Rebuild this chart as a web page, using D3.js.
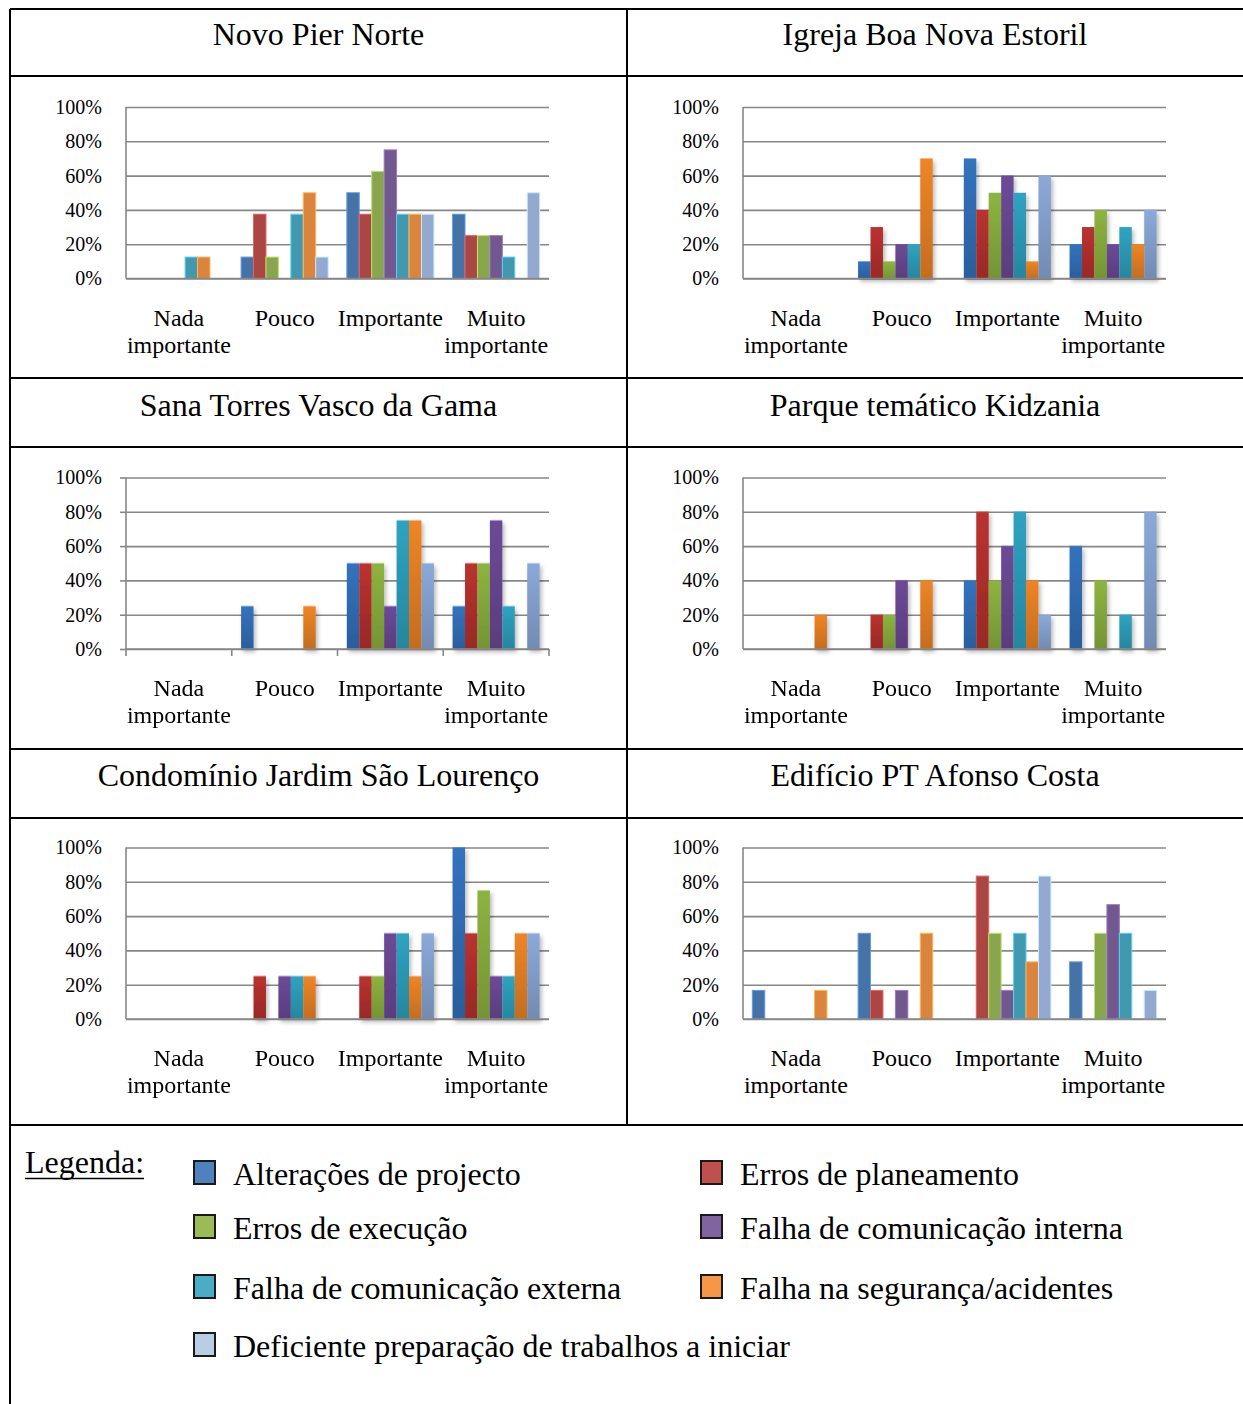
<!DOCTYPE html>
<html>
<head>
<meta charset="utf-8">
<script src="https://cdn.jsdelivr.net/npm/d3@7"></script>
<style>
body { margin: 0; background: #fff; }
text { font-family: 'Liberation Serif', 'Times New Roman', serif; fill: #000; }
</style>
</head>
<body>
<svg id="page" width="1243" height="1404"></svg>
<script>
// Categories, series and tick values
let categories = ['Nada importante', 'Pouco', 'Importante', 'Muito importante'];
let series = [
	'Alterações de projecto',
	'Erros de planeamento',
	'Erros de execução',
	'Falha de comunicação interna',
	'Falha de comunicação externa',
	'Falha na segurança/acidentes',
	'Deficiente preparação de trabalhos a iniciar'
];
let yTicks = [0, 20, 40, 60, 80, 100];

// Values per category (rows) and series (columns), in %
let novoPierNorte = [
	[0, 0, 0, 0, 12.5, 12.5, 0],
	[12.5, 37.5, 12.5, 0, 37.5, 50, 12.5],
	[50, 37.5, 62.5, 75, 37.5, 37.5, 37.5],
	[37.5, 25, 25, 25, 12.5, 0, 50]
];
let igrejaBoaNova = [
	[0, 0, 0, 0, 0, 0, 0],
	[10, 30, 10, 20, 20, 70, 0],
	[70, 40, 50, 60, 50, 10, 60],
	[20, 30, 40, 20, 30, 20, 40]
];
let sanaTorres = [
	[0, 0, 0, 0, 0, 0, 0],
	[25, 0, 0, 0, 0, 25, 0],
	[50, 50, 50, 25, 75, 75, 50],
	[25, 50, 50, 75, 25, 0, 50]
];
let kidzania = [
	[0, 0, 0, 0, 0, 20, 0],
	[0, 20, 20, 40, 0, 40, 0],
	[40, 80, 40, 60, 80, 40, 20],
	[60, 0, 40, 0, 20, 0, 80]
];
let condominio = [
	[0, 0, 0, 0, 0, 0, 0],
	[0, 25, 0, 25, 25, 25, 0],
	[0, 25, 25, 50, 50, 25, 50],
	[100, 50, 75, 25, 25, 50, 50]
];
let edificioPT = [
	[16.67, 0, 0, 0, 0, 16.67, 0],
	[50, 16.67, 0, 16.67, 0, 50, 0],
	[0, 83.33, 50, 16.67, 50, 33.33, 83.33],
	[33.33, 0, 50, 66.67, 50, 0, 16.67]
];

let panels = [
	{title: 'Novo Pier Norte', values: novoPierNorte, look: 'flat'},
	{title: 'Igreja Boa Nova Estoril', values: igrejaBoaNova, look: 'grad'},
	{title: 'Sana Torres Vasco da Gama', values: sanaTorres, look: 'grad', ticks: true},
	{title: 'Parque temático Kidzania', values: kidzania, look: 'grad'},
	{title: 'Condomínio Jardim São Lourenço', values: condominio, look: 'grad'},
	{title: 'Edifício PT Afonso Costa', values: edificioPT, look: 'flat'}
];

// Colours
let flatColors = ['#4572A7', '#AA4643', '#89A54E', '#71588F', '#4198AF', '#DB843D', '#93A9CF'];
let gradColors = ['#3472BE', '#BA3230', '#8DB440', '#6D4A98', '#2FA3C1', '#EF8526', '#8BA9D9'];
let legendColors = ['#4F81BD', '#C0504D', '#9BBB59', '#8064A2', '#4BACC6', '#F79646', '#B9CDE5'];

// Layout
let W = 423;          // plot width
let H = 171.5;        // plot height
let axisX = [126, 743];
let topY = [107, 477.5, 847.5];
let colCenter = [318.5, 935];

let svg = d3.select('#page');
svg.append('rect').attr('width', 1243).attr('height', 1404).attr('fill', '#fff');

let defs = svg.append('defs');
gradColors.forEach((c, i) => {
	let g = defs.append('linearGradient').attr('id', 'grad' + i)
			.attr('x1', 0).attr('y1', 0).attr('x2', 0).attr('y2', 1);
	g.append('stop').attr('offset', '0%').attr('stop-color', c);
	g.append('stop').attr('offset', '100%').attr('stop-color', d3.color(c).darker(0.55));
});
defs.append('filter').attr('id', 'shadow')
		.attr('x', '-30%').attr('y', '-10%').attr('width', '180%').attr('height', '130%')
		.append('feDropShadow')
		.attr('dx', 2).attr('dy', 3).attr('stdDeviation', 2.2)
		.attr('flood-color', '#000').attr('flood-opacity', 0.28);

// Table borders
let tableLines = [
	[10, 9, 1243, 9], [10, 76, 1243, 76], [10, 378, 1243, 378], [10, 447, 1243, 447],
	[10, 749, 1243, 749], [10, 818, 1243, 818], [10, 1125, 1243, 1125],
	[10, 9, 10, 1404], [627, 9, 627, 1125]
];
svg.append('g').selectAll('line').data(tableLines).enter().append('line')
		.attr('x1', d => d[0]).attr('y1', d => d[1])
		.attr('x2', d => d[2]).attr('y2', d => d[3])
		.attr('stroke', '#000').attr('stroke-width', 2);

let y = d3.scaleLinear().domain([0, 100]).range([H, 0]);
let x0 = d3.scaleBand().domain(categories).range([0, W]).padding(0);
let gap = x0.bandwidth() * 0.75 / 8.5;
let x1 = d3.scaleBand().domain(d3.range(series.length)).range([gap, x0.bandwidth() - gap]);

panels.forEach((p, i) => {
	let col = i % 2, row = Math.floor(i / 2);

	// Title
	svg.append('text')
			.attr('x', colCenter[col]).attr('y', topY[row] - 62)
			.attr('text-anchor', 'middle').attr('font-size', 32)
			.text(p.title);

	let g = svg.append('g').attr('transform', `translate(${axisX[col]}, ${topY[row]})`);

	// Gridlines and y labels
	let grid = g.append('g')
			.call(d3.axisLeft(y).tickValues(yTicks).tickSizeInner(-W).tickSizeOuter(0)
					.tickPadding(24).tickFormat(d => d + '%'));
	grid.select('.domain').remove();
	grid.selectAll('line').attr('stroke', '#878787').attr('stroke-width', 1.6);
	grid.selectAll('text').attr('font-size', 20).attr('font-family', null);

	// Left axis line
	g.append('line').attr('x1', 0).attr('x2', 0).attr('y1', 0).attr('y2', H)
			.attr('stroke', '#878787').attr('stroke-width', 1.6);

	if (p.ticks) {
		g.append('g').call(d3.axisLeft(y).tickValues(yTicks).tickSize(6).tickFormat(''))
				.call(a => a.select('.domain').remove())
				.selectAll('line').attr('stroke', '#878787').attr('stroke-width', 1.6);
		let bounds = categories.map(c => x0(c)).concat([W]);
		g.append('g').selectAll('line').data(bounds).enter().append('line')
				.attr('x1', d => d).attr('x2', d => d)
				.attr('y1', H).attr('y2', H + 7)
				.attr('stroke', '#878787').attr('stroke-width', 1.6);
	}

	// Bars
	let barLayer = g.append('g');
	if (p.look === 'grad') barLayer.attr('filter', 'url(#shadow)');
	let groups = barLayer.selectAll('g.cat').data(p.values).enter().append('g')
			.attr('class', 'cat')
			.attr('transform', (d, k) => `translate(${x0(categories[k])}, 0)`);
	groups.selectAll('rect')
			.data(d => d.map((v, s) => ({v: v, s: s})).filter(e => e.v > 0))
			.enter().append('rect')
			.attr('x', d => x1(d.s))
			.attr('width', x1.bandwidth())
			.attr('y', d => y(d.v))
			.attr('height', d => H - y(d.v))
			.attr('fill', d => p.look === 'grad' ? `url(#grad${d.s})` : flatColors[d.s])
			.attr('stroke', d => p.look === 'grad' ? 'none' : d3.color(flatColors[d.s]).brighter(0.9))
			.attr('stroke-width', 1);

	// Baseline
	g.append('line').attr('x1', 0).attr('x2', W).attr('y1', H).attr('y2', H)
			.attr('stroke', '#878787').attr('stroke-width', 1.6);

	// Category labels
	let labels = g.append('g').selectAll('text').data(categories).enter().append('text')
			.attr('text-anchor', 'middle').attr('font-size', 24)
			.attr('x', c => x0(c) + x0.bandwidth() / 2)
			.attr('y', H + 47);
	labels.each(function(c) {
		let words = c.split(' ');
		let t = d3.select(this);
		words.forEach((w, k) => {
			t.append('tspan').attr('x', x0(c) + x0.bandwidth() / 2)
					.attr('dy', k === 0 ? 0 : 27).text(w);
		});
	});
});

// Legend
let legendRows = [1160, 1214, 1274, 1332];
let legendCols = [193, 700];

let leg = svg.append('text').attr('x', 25).attr('y', 1173).attr('font-size', 32).text('Legenda:');
let legW = leg.node().getComputedTextLength();
svg.append('line').attr('x1', 25).attr('x2', 25 + legW).attr('y1', 1178.5).attr('y2', 1178.5)
		.attr('stroke', '#000').attr('stroke-width', 1.5);

let items = svg.append('g').selectAll('g').data(series).enter().append('g')
		.attr('transform', (d, i) => `translate(${legendCols[i % 2]}, ${legendRows[Math.floor(i / 2)]})`);
items.append('rect')
		.attr('x', 1).attr('y', 1).attr('width', 21).attr('height', 23)
		.attr('fill', (d, i) => legendColors[i])
		.attr('stroke', '#1a1a1a').attr('stroke-width', 2);
items.append('text')
		.attr('x', 40).attr('y', 25).attr('font-size', 32)
		.text(d => d);
</script>
</body>
</html>
